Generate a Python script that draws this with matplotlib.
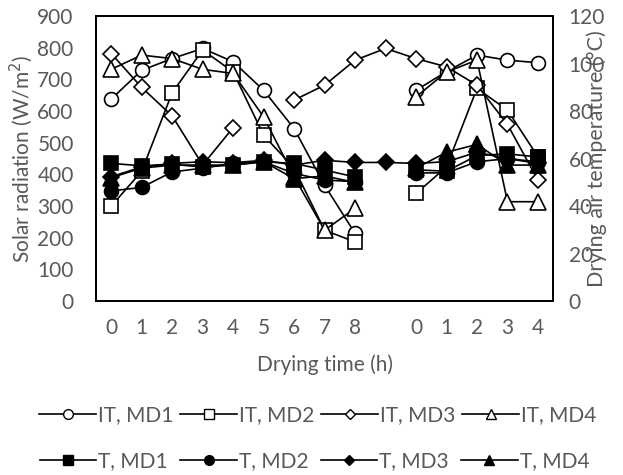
import numpy as np
import matplotlib.pyplot as plt
from matplotlib.lines import Line2D

nan = np.nan

# x categories: two drying runs, blank slot in between
hours = ["0", "1", "2", "3", "4", "5", "6", "7", "8", "", "0", "1", "2", "3", "4"]

# solar radiation (W/m2)
it_md1 = [638, 729, 766, 798, 756, 666, 545, 366, 214, nan, 666, 725, 777, 761, 753]
it_md2 = [300, 410, 658, 793, 724, 524, 420, 224, 187, nan, 340, 424, 672, 603, 456]
it_md3 = [782, 675, 585, 430, 548, nan, 635, 682, 761, 798, 766, 740, 682, 558, 382]
it_md4 = [732, 777, 766, 732, 719, 582, 393, 224, 293, nan, 645, 724, 761, 314, 314]

# drying air temperature (degC)
t_md1 = [58.0, 57.0, 57.6, 56.5, 57.3, 58.7, 58.0, 55.2, 52.3, nan, 55.3, 54.7, 61.3, 62.0, 60.7]
t_md2 = [46.4, 47.9, 54.4, 56.0, 58.0, 58.7, 53.8, 51.0, 50.3, nan, 54.0, 54.0, 58.7, 60.0, 58.7]
t_md3 = [52.4, 56.5, 58.0, 58.7, 58.3, 59.3, 57.3, 59.3, 58.4, 58.4, 58.0, 58.7, 62.7, 60.0, 58.0]
t_md4 = [52.0, 56.0, 57.3, 57.3, 57.3, 58.7, 51.6, 52.7, 50.0, nan, 56.0, 62.7, 66.0, 57.3, 57.3]

plt.rcParams['font.family'] = ['Lato', 'DejaVu Sans']
grey = '#595959'
fs = 15
x = np.arange(len(hours))

fig = plt.figure(figsize=(6.23, 4.75), dpi=100)
ax = fig.add_axes([0.154, 0.366, 0.734, 0.600])
ax2 = ax.twinx()

kw = dict(color='black', lw=1.2, markeredgecolor='black', markeredgewidth=1.2)
ax.plot(x, it_md1, marker='o', ms=10, mfc='white', **kw)
ax.plot(x, it_md2, marker='s', ms=10, mfc='white', **kw)
ax.plot(x, it_md3, marker='D', ms=8, mfc='white', **kw)
ax.plot(x, it_md4, marker='^', ms=11, mfc='white', **kw)

ax2.plot(x, t_md1, marker='s', ms=10, mfc='black', **kw)
ax2.plot(x, t_md2, marker='o', ms=10, mfc='black', **kw)
ax2.plot(x, t_md3, marker='D', ms=8, mfc='black', **kw)
ax2.plot(x, t_md4, marker='^', ms=11, mfc='black', **kw)

ax.set_xlim(-0.5, 14.5)
ax.set_ylim(0, 900)
ax.set_yticks(range(0, 901, 100))
ax2.set_ylim(0, 120)
ax2.set_yticks(range(0, 121, 20))
ax.set_xticks(x)
ax.set_xticklabels(hours)

for a in (ax, ax2):
    a.tick_params(length=0, labelsize=fs, colors=grey, pad=16)
    for s in a.spines.values():
        s.set_linewidth(1.3)
        s.set_color('black')
ax.tick_params(axis='x', pad=12)
ax2.tick_params(axis='y', pad=11)

ax.set_xlabel("Drying time (h)", fontsize=fs, color=grey, labelpad=12)
ax.set_ylabel("Solar radiation (W/m$^2$)", fontsize=fs, color=grey, labelpad=2)
ax2.set_ylabel("Drying air temperature (°C)", fontsize=15.5, color=grey, labelpad=-13)

def h(marker, fill, ms):
    return Line2D([], [], color='black', lw=1.2, marker=marker, ms=ms,
                  mfc=fill, mec='black', mew=1.0)

fig.legend([h('o', 'white', 7), h('s', 'white', 7), h('D', 'white', 5.5), h('^', 'white', 7)],
           ["IT, MD1", "IT, MD2", "IT, MD3", "IT, MD4"],
           loc='center', bbox_to_anchor=(0.51, 0.126), ncol=4, frameon=False,
           fontsize=fs, handlelength=2.7, handletextpad=0.1, columnspacing=0.35,
           labelcolor=grey, borderpad=0)
fig.legend([h('s', 'black', 7), h('o', 'black', 7), h('D', 'black', 5.5), h('^', 'black', 7)],
           ["T, MD1", "T, MD2", "T, MD3", "T, MD4"],
           loc='center', bbox_to_anchor=(0.505, 0.029), ncol=4, frameon=False,
           fontsize=fs, handlelength=2.7, handletextpad=0.1, columnspacing=0.6,
           labelcolor=grey, borderpad=0)

fig.savefig("out.png", dpi=100)
